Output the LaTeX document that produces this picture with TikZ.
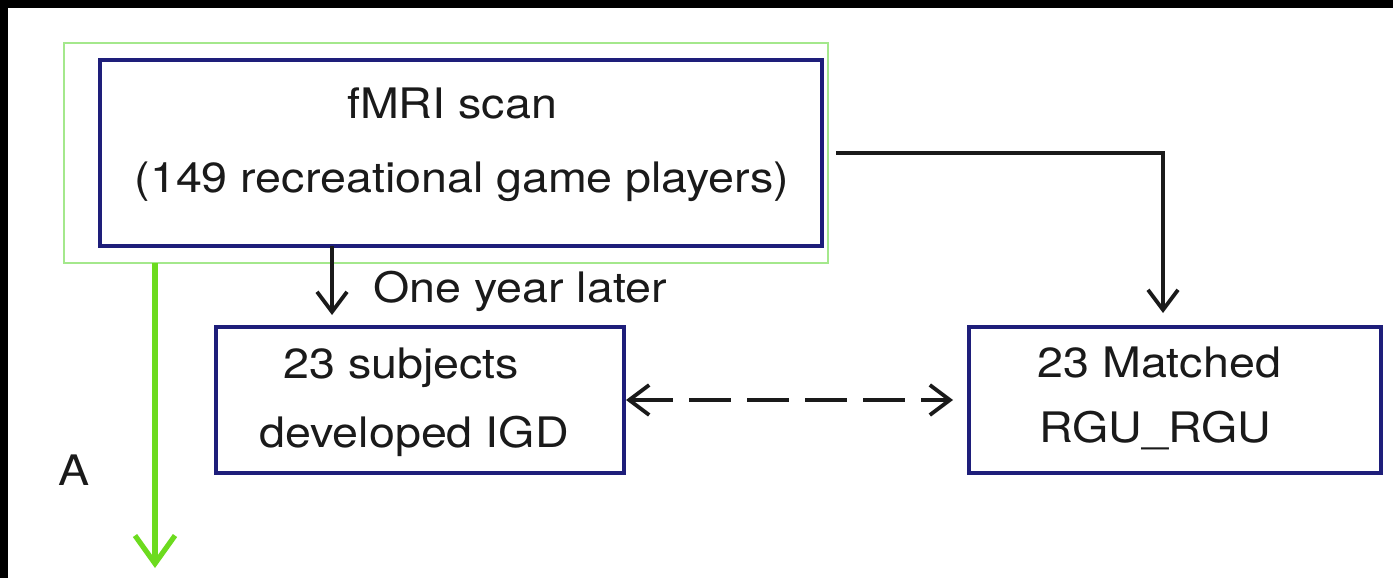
\documentclass[tikz,border=0pt]{standalone}
\usepackage{fontspec}
\setmainfont[FakeStretch=1.11]{TeX Gyre Heros}
\usetikzlibrary{arrows.meta}
\definecolor{navy}{HTML}{1E1E7A}
\definecolor{lgreen}{HTML}{A4E88C}
\definecolor{agreen}{HTML}{6CDB1E}
\definecolor{ink}{HTML}{1A1A1A}
\begin{document}
\begin{tikzpicture}[x=0.5pt,y=-0.5pt,
  box/.style={draw=navy,line width=1.8pt,inner sep=0pt,outer sep=0pt},
  frame/.style={draw=lgreen,line width=1.1pt,inner sep=0pt,outer sep=0pt},
  txt/.style={inner sep=0pt,text=ink,font=\fontsize{21}{25}\selectfont},
  tip/.style={Straight Barb[length=10pt,width=15pt]},
  arr/.style={draw=ink,line width=1.9pt,-{Straight Barb[length=10pt,width=15pt]}},
  garr/.style={draw=agreen,line width=2.6pt,-{Straight Barb[length=14pt,width=20pt]}}]
\useasboundingbox (0,0) rectangle (1393,578);
\fill[white] (0,0) rectangle (1393,578);
\fill[black] (0,0) rectangle (1393,8);
\fill[black] (0,0) rectangle (8,578);
% boxes
\node[frame,minimum width=382pt,minimum height=110pt] (grp) at (446,153) {};
\node[box,minimum width=361pt,minimum height=93pt] (fmri) at (461,153) {};
\node[box,minimum width=204pt,minimum height=73pt] (subj) at (420,400) {};
\node[box,minimum width=206pt,minimum height=73pt] (match) at (1175,400) {};
% texts
\node[txt,anchor=base] (t1) at (452,118) {fMRI scan};
\node[txt,anchor=base] (t2) at (462,192) {(149 recreational game players)};
\node[txt,anchor=base west] (t3) at (373,302) {One year later};
\node[txt,anchor=base west] (t4) at (283,378) {23 subjects};
\node[txt,anchor=base west] (t5) at (259,447) {developed IGD};
\node[txt,anchor=base west] (t6) at (1037,377) {23 Matched};
\node[txt,anchor=base west] (t7) at (1039,442) {RGU\_RGU};
\node[txt,anchor=base west] (t8) at (58,485) {A};
% connectors
\draw[arr,shorten >=6pt] (332,0 |- fmri.south) -- (332,0 |- subj.north);
\draw[arr,shorten <=7pt,shorten >=7pt] (fmri.east) -| (1163,0 |- match.north);
\draw[arr,dash pattern=on 21pt off 8pt,{Straight Barb[length=10pt,width=15pt]}-{Straight Barb[length=10pt,width=15pt]},shorten <=1pt,shorten >=8pt] (subj.east) -- (match.west);
\coordinate (gend) at (155,568);
\draw[garr] (155,0 |- grp.south) -- (gend);
\end{tikzpicture}
\end{document}
